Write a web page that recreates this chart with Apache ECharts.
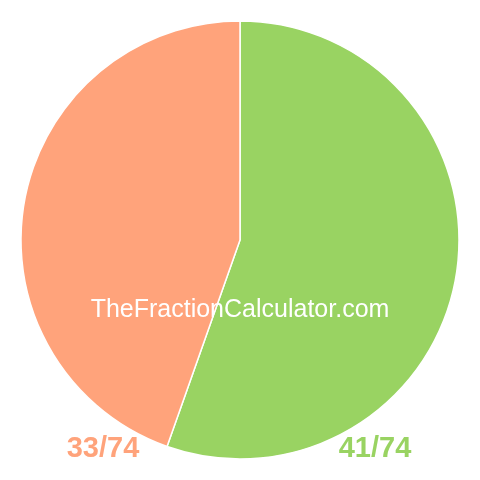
<!DOCTYPE html>
<html>
<head>
<meta charset="utf-8">
<script src="https://cdn.jsdelivr.net/npm/echarts@6/dist/echarts.min.js"></script>
<style>html,body{margin:0;padding:0;background:#fff}#c{width:480px;height:480px}</style>
</head>
<body>
<div id="c"></div>
<script>
var categories = ['41/74', '33/74'];
var values = [41, 33];
var colors = ['#99D362', '#FFA37B'];
var watermark = 'TheFractionCalculator.com';

var chart = echarts.init(document.getElementById('c'), null, {renderer: 'canvas'});
chart.setOption({
  animation: false,
  series: [{
    type: 'pie',
    center: [240, 240],
    radius: 219,
    startAngle: 90,
    clockwise: true,
    z: 1,
    label: {show: false},
    labelLine: {show: false},
    emphasis: {disabled: true},
    itemStyle: {borderColor: '#fff', borderWidth: 1.5},
    data: categories.map(function (c, i) {
      return {name: c, value: values[i], itemStyle: {color: colors[i]}};
    })
  }],
  graphic: {
    elements: [
      {type: 'text', z: 100, x: 240, y: 310, style: {text: watermark, fill: '#fff', font: '25px "Liberation Sans", Arial, sans-serif', align: 'center', verticalAlign: 'middle'}},
      {type: 'text', z: 100, x: 103, y: 449, style: {text: categories[1], fill: colors[1], font: 'bold 29px "Liberation Sans", Arial, sans-serif', align: 'center', verticalAlign: 'middle'}},
      {type: 'text', z: 100, x: 375, y: 449, style: {text: categories[0], fill: colors[0], font: 'bold 29px "Liberation Sans", Arial, sans-serif', align: 'center', verticalAlign: 'middle'}}
    ]
  }
});
</script>
</body>
</html>
